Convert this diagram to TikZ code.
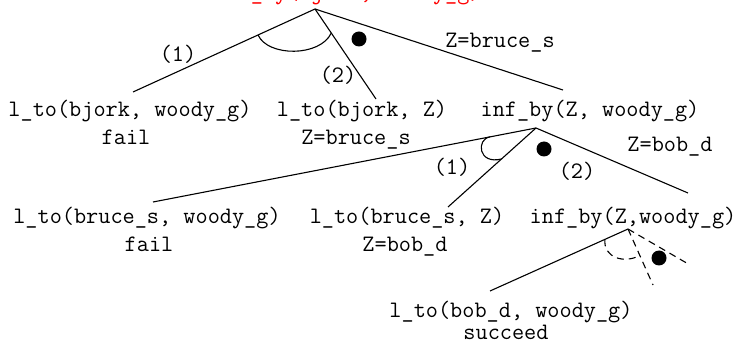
\documentclass[tikz,border=0pt]{standalone}
\usetikzlibrary{calc}
\begin{document}
\begin{tikzpicture}[x=1pt,y=-1pt,
  goal/.style={font=\fontsize{23.6}{28}\selectfont\ttfamily, inner sep=0pt, anchor=base},
  query/.style={goal, text=red},
  branch/.style={line width=1.1pt, line join=round},
  altbranch/.style={branch, dash pattern=on 7pt off 5pt},
  choicedot/.style={fill=black, draw=none},
]
\useasboundingbox (0,0) rectangle (741,344);

% ---- query at the root ----
\node[query] (root) at (348,-0.5) {inf\_by(bjork, woody\_g)};
\coordinate (R)  at (315,9);
\coordinate (Rl) at (133,92);
\coordinate (Rm) at (376,99);
\coordinate (Rr) at (563,90);

% ---- first resolution step ----
\node[goal] (A)  at (130,117) {l\_to(bjork, woody\_g)};
\node[goal] (A2) at (126,145) {fail};
\node[goal] (B)  at (362,117) {l\_to(bjork, Z)};
\node[goal] (B2) at (356,145) {Z=bruce\_s};
\node[goal] (C)  at (590,117) {inf\_by(Z, woody\_g)};

\draw[branch] (Rl) -- (R) -- (Rr);
\draw[branch] (R) -- (Rm);
\draw[branch] ($(R)!0.313!(Rl)$) .. controls (268,57) and (320,57) .. ($(R)!0.267!(Rm)$);
\fill[choicedot] (359,39) circle (7.5);
\node[goal] (r1)  at (178,62) {(1)};
\node[goal] (r2)  at (338,83) {(2)};
\node[goal] (rZ)  at (500,48) {Z=bruce\_s};

% ---- second resolution step ----
\coordinate (C0) at (536,128);
\coordinate (Cl) at (153,202);
\coordinate (Cm) at (448,207);
\coordinate (Cr) at (688,193);

\node[goal] (D)  at (147,224) {l\_to(bruce\_s, woody\_g)};
\node[goal] (D2) at (149,252) {fail};
\node[goal] (E)  at (407,224) {l\_to(bruce\_s, Z)};
\node[goal] (E2) at (405,252) {Z=bob\_d};
\node[goal] (F)  at (633,224) {inf\_by(Z,woody\_g)};

\draw[branch] (Cl) -- (C0) -- (Cr);
\draw[branch] (C0) -- (Cm);
\draw[branch] ($(C0)!0.12!(Cl)$) .. controls (476,139) and (478,165) .. ($(C0)!0.392!(Cm)$);
\fill[choicedot] (544,149) circle (7.5);
\node[goal] (c1) at (452,175) {(1)};
\node[goal] (c2) at (577,179) {(2)};
\node[goal] (cZ) at (670,152) {Z=bob\_d};

% ---- third resolution step ----
\coordinate (F0) at (628,229);
\coordinate (Fl) at (490,291);
\coordinate (Fm) at (653,285);
\coordinate (Fr) at (690,265);

\node[goal] (G)  at (511,317) {l\_to(bob\_d, woody\_g)};
\node[goal] (G2) at (506,340) {succeed};

\draw[branch] (F0) -- (Fl);
\draw[altbranch] (F0) -- (Fm);
\draw[altbranch] (F0) -- (Fr);
\draw[altbranch] ($(F0)!0.167!(Fl)$) .. controls (603,258) and (625,264) .. ($(F0)!0.47!(Fm)$);
\fill[choicedot] (659,258) circle (7.5);
\end{tikzpicture}
\end{document}
